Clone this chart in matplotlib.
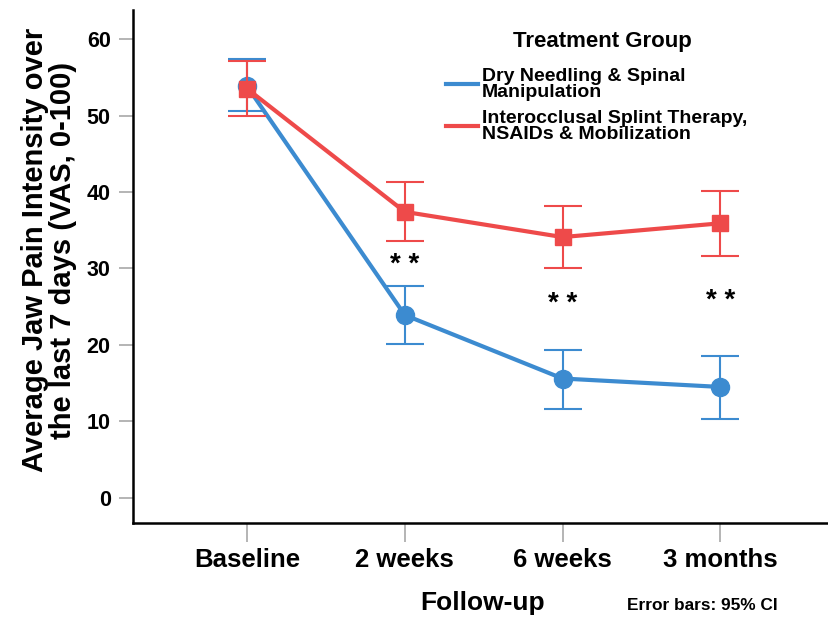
import matplotlib
matplotlib.use("Agg")
import matplotlib.pyplot as plt
from matplotlib.lines import Line2D
import numpy as np

plt.rcParams['font.family'] = ['Liberation Sans', 'DejaVu Sans']
plt.rcParams['font.weight'] = 'bold'

timepoints = ["Baseline", "2 weeks", "6 weeks", "3 months"]
groups = ["Dry Needling & Spinal\nManipulation",
          "Interocclusal Splint Therapy,\nNSAIDs & Mobilization"]

dn_mean = [53.8, 23.9, 15.6, 14.5]
dn_low = [50.6, 20.1, 11.6, 10.3]
dn_high = [57.4, 27.7, 19.3, 18.6]

st_mean = [53.5, 37.4, 34.1, 35.9]
st_low = [49.9, 33.6, 30.1, 31.6]
st_high = [57.1, 41.3, 38.2, 40.1]

star_pos = [1, 2, 3]
star_y = [30.5, 25.3, 25.8]

yticks = [0, 10, 20, 30, 40, 50, 60]

blue = "#3c8bd0"
red = "#ee4a4a"

fig = plt.figure(figsize=(8.29, 6.18), dpi=100)
ax = fig.add_axes([0.1604, 0.1537, 0.8396, 0.8301])

x = np.arange(len(timepoints))

def draw(mean, low, high, color, marker, ms, z):
    mean = np.array(mean); low = np.array(low); high = np.array(high)
    ax.errorbar(x, mean, yerr=[mean - low, high - mean], fmt='none',
                ecolor=color, elinewidth=1.5, capsize=14, capthick=1.5, zorder=z)
    ax.plot(x, mean, color=color, lw=3.0, zorder=z + 0.5)
    ax.plot(x, mean, linestyle='none', marker=marker, ms=ms, color=color,
            markeredgecolor=color, zorder=z + 1)

draw(dn_mean, dn_low, dn_high, blue, 'o', 13, 2)
draw(st_mean, st_low, st_high, red, 's', 11.5, 3)

for px, py in zip(star_pos, star_y):
    ax.text(px, py, "* *", ha='center', va='center', fontsize=20, fontweight='bold')

ax.set_xlim(-0.724, 3.69)
ax.set_ylim(-3.3, 63.8)
ax.set_xticks(x)
ax.set_xticklabels(timepoints, fontsize=18.5, fontweight='bold')
ax.set_yticks(yticks)
ax.set_yticklabels([str(v) for v in yticks], fontsize=15.5, fontweight='bold')
ax.tick_params(axis='both', direction='out', color='#a8a8a8', width=1.2)
ax.tick_params(axis='y', length=10, pad=6)
ax.tick_params(axis='x', length=14, pad=4)

for s in ['top', 'right']:
    ax.spines[s].set_visible(False)
for s in ['left', 'bottom']:
    ax.spines[s].set_linewidth(1.8)
    ax.spines[s].set_color('black')

ax.set_xlabel("Follow-up", fontsize=19, fontweight='bold')
ax.xaxis.set_label_coords(0.502, -0.133)
ax.set_ylabel("Average Jaw Pain Intensity over\nthe last 7 days (VAS, 0-100)",
              fontsize=21, fontweight='bold', linespacing=1.0)
ax.yaxis.set_label_coords(-0.081, 0.532)

handles = [Line2D([], [], color=blue, lw=3.0), Line2D([], [], color=red, lw=3.0)]
leg = ax.legend(handles, groups, loc='upper left', bbox_to_anchor=(0.4497, 0.887),
                frameon=False, fontsize=14, borderpad=0, borderaxespad=0,
                handlelength=1.65, handletextpad=0.2, labelspacing=0.5)
for t in leg.get_texts():
    t.set_fontweight('bold')
    t.set_linespacing(0.9)

ax.text(0.675, 0.938, "Treatment Group", transform=ax.transAxes, ha='center',
        va='center', fontsize=16, fontweight='bold')

fig.text(0.756, 0.021, "Error bars: 95% CI", fontsize=12.4, fontweight='bold', va='center')

fig.savefig("out.png", dpi=100)
